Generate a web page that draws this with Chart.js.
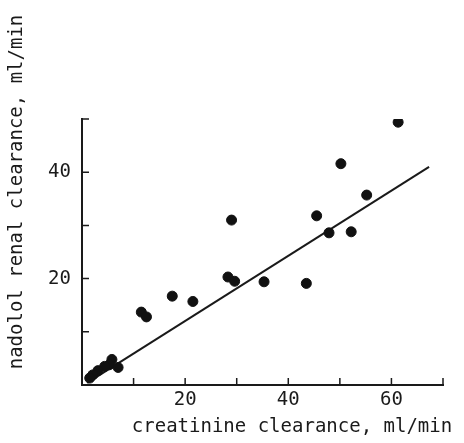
<!DOCTYPE html>
<html>
<head>
<meta charset="utf-8">
<script src="https://cdn.jsdelivr.net/npm/chart.js@4.4.1/dist/chart.umd.min.js"></script>
<style>
  html, body { margin: 0; padding: 0; background: #fff; }
  #wrap { width: 464px; height: 443px; }
</style>
</head>
<body>
<div id="wrap"><canvas id="chart" width="464" height="443"></canvas></div>
<script>
// creatinine clearance (x) vs nadolol renal clearance (y), ml/min
const creatinine = [61.3, 50.2, 55.2, 45.5, 29.0, 47.9, 52.2, 28.3, 29.6, 35.3, 43.5,
  17.5, 21.5, 11.5, 12.5, 5.8, 5.3, 7.0, 4.4, 3.1, 2.1, 1.5];
const nadolol = [49.4, 41.6, 35.7, 31.8, 31.0, 28.6, 28.8, 20.3, 19.5, 19.4, 19.1,
  16.7, 15.7, 13.7, 12.8, 4.8, 3.8, 3.3, 3.5, 2.7, 1.9, 1.3];

// regression line end points
const fitX = [1.0, 67.3];
const fitY = [0.4, 41.0];

const xTicks = [10, 20, 30, 40, 50, 60, 70];
const xLabels = [20, 40, 60];
const yTicks = [10, 20, 30, 40, 50];
const yLabels = [20, 40];

const xTitle = 'creatinine clearance, ml/min';
const yTitle = 'nadolol renal clearance, ml/min';

const FONT = '"DejaVu Sans Mono", "Liberation Mono", monospace';
const INK = '#1a1a1a';

// inward tick marks and free placed axis titles
const paperAxes = {
  id: 'paperAxes',
  afterDraw(chart) {
    const { ctx, chartArea: a, scales: { x, y } } = chart;
    ctx.save();
    ctx.strokeStyle = INK;
    ctx.lineWidth = 1.5;
    ctx.beginPath();
    xTicks.forEach(v => {
      const px = x.getPixelForValue(v);
      ctx.moveTo(px, a.bottom);
      ctx.lineTo(px, a.bottom - 7);
    });
    yTicks.forEach(v => {
      const py = y.getPixelForValue(v);
      ctx.moveTo(a.left, py);
      ctx.lineTo(a.left + 7, py);
    });
    ctx.stroke();

    ctx.fillStyle = INK;
    ctx.font = '19px ' + FONT;
    ctx.textAlign = 'center';
    ctx.textBaseline = 'alphabetic';
    ctx.fillText(xTitle, 292, 432);

    ctx.translate(22, 192);
    ctx.rotate(-Math.PI / 2);
    ctx.fillText(yTitle, 0, 0);
    ctx.restore();
  }
};

new Chart(document.getElementById('chart'), {
  type: 'scatter',
  data: {
    datasets: [
      {
        label: 'patients',
        data: creatinine.map((v, i) => ({ x: v, y: nadolol[i] })),
        backgroundColor: '#111',
        borderColor: '#111',
        pointRadius: 5,
        pointHoverRadius: 5,
      },
      {
        type: 'line',
        label: 'fit',
        data: fitX.map((v, i) => ({ x: v, y: fitY[i] })),
        borderColor: INK,
        borderWidth: 2,
        pointRadius: 0,
        fill: false,
      },
    ],
  },
  options: {
    responsive: false,
    animation: false,
    layout: { padding: { top: 119, right: 21, left: 0, bottom: 0 } },
    plugins: { legend: { display: false }, tooltip: { enabled: false } },
    scales: {
      x: {
        type: 'linear',
        min: 0,
        max: 70,
        afterFit(s) { s.height = 58; },
        afterBuildTicks(s) { s.ticks = xLabels.map(v => ({ value: v })); },
        grid: { display: true, drawOnChartArea: false, drawTicks: false },
        border: { display: true, color: INK, width: 2 },
        ticks: {
          color: INK,
          font: { family: FONT, size: 19 },
          padding: 4,
          maxRotation: 0,
        },
      },
      y: {
        type: 'linear',
        min: 0,
        max: 50,
        afterFit(s) { s.width = 82; },
        afterBuildTicks(s) { s.ticks = yLabels.map(v => ({ value: v })); },
        grid: { display: true, drawOnChartArea: false, drawTicks: false },
        border: { display: true, color: INK, width: 2 },
        ticks: {
          color: INK,
          font: { family: FONT, size: 19 },
          padding: 11,
        },
      },
    },
  },
  plugins: [paperAxes],
});
</script>
</body>
</html>
